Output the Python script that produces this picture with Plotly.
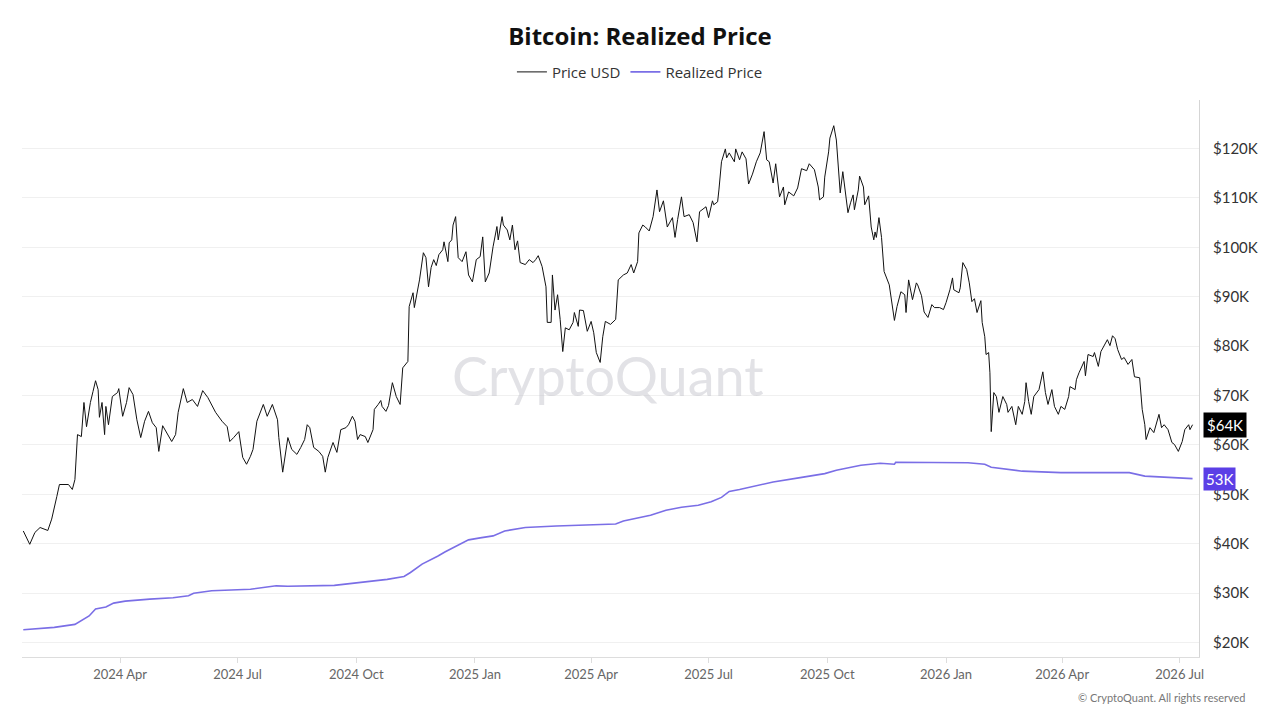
import plotly.graph_objects as go

# ---------------- data ----------------
price_dates = [
    "2024-01-17", "2024-01-22", "2024-01-26", "2024-01-30", "2024-02-05", "2024-02-08", "2024-02-12", "2024-02-14",
    "2024-02-21", "2024-02-24", "2024-02-26", "2024-02-28", "2024-03-02", "2024-03-04", "2024-03-06", "2024-03-09",
    "2024-03-11", "2024-03-13", "2024-03-15", "2024-03-16", "2024-03-18", "2024-03-20", "2024-03-21", "2024-03-23",
    "2024-03-26", "2024-03-30", "2024-03-31", "2024-04-03", "2024-04-06", "2024-04-08", "2024-04-11", "2024-04-14",
    "2024-04-17", "2024-04-20", "2024-04-23", "2024-04-26", "2024-04-29", "2024-05-01", "2024-05-04", "2024-05-08",
    "2024-05-11", "2024-05-14", "2024-05-16", "2024-05-20", "2024-05-23", "2024-05-27", "2024-05-31", "2024-06-04",
    "2024-06-08", "2024-06-14", "2024-06-19", "2024-06-23", "2024-06-25", "2024-06-28", "2024-07-02", "2024-07-05",
    "2024-07-08", "2024-07-11", "2024-07-13", "2024-07-16", "2024-07-21", "2024-07-24", "2024-07-28", "2024-08-01",
    "2024-08-02", "2024-08-05", "2024-08-09", "2024-08-12", "2024-08-16", "2024-08-19", "2024-08-22", "2024-08-24",
    "2024-08-26", "2024-08-29", "2024-09-02", "2024-09-05", "2024-09-07", "2024-09-09", "2024-09-13", "2024-09-16",
    "2024-09-19", "2024-09-23", "2024-09-25", "2024-09-28", "2024-09-30", "2024-10-02", "2024-10-04", "2024-10-08",
    "2024-10-10", "2024-10-14", "2024-10-15", "2024-10-18", "2024-10-20", "2024-10-21", "2024-10-24", "2024-10-26",
    "2024-10-29", "2024-11-01", "2024-11-04", "2024-11-06", "2024-11-08", "2024-11-10", "2024-11-11", "2024-11-14",
    "2024-11-15", "2024-11-17", "2024-11-19", "2024-11-22", "2024-11-24", "2024-11-26", "2024-11-28", "2024-11-30",
    "2024-12-02", "2024-12-04", "2024-12-07", "2024-12-08", "2024-12-11", "2024-12-12", "2024-12-14", "2024-12-15",
    "2024-12-17", "2024-12-19", "2024-12-22", "2024-12-25", "2024-12-27", "2024-12-30", "2025-01-02", "2025-01-05",
    "2025-01-07", "2025-01-09", "2025-01-12", "2025-01-15", "2025-01-18", "2025-01-19", "2025-01-22", "2025-01-23",
    "2025-01-26", "2025-01-28", "2025-01-30", "2025-02-01", "2025-02-03", "2025-02-05", "2025-02-09", "2025-02-12",
    "2025-02-15", "2025-02-17", "2025-02-19", "2025-02-22", "2025-02-25", "2025-02-26", "2025-03-01", "2025-03-02",
    "2025-03-04", "2025-03-06", "2025-03-08", "2025-03-10", "2025-03-12", "2025-03-15", "2025-03-18", "2025-03-19",
    "2025-03-22", "2025-03-23", "2025-03-26", "2025-03-29", "2025-04-01", "2025-04-03", "2025-04-05", "2025-04-08",
    "2025-04-10", "2025-04-12", "2025-04-16", "2025-04-20", "2025-04-22", "2025-04-26", "2025-04-29", "2025-05-02",
    "2025-05-04", "2025-05-07", "2025-05-08", "2025-05-11", "2025-05-13", "2025-05-16", "2025-05-19", "2025-05-22",
    "2025-05-24", "2025-05-27", "2025-05-30", "2025-06-03", "2025-06-05", "2025-06-07", "2025-06-10", "2025-06-12",
    "2025-06-16", "2025-06-19", "2025-06-22", "2025-06-24", "2025-06-29", "2025-07-01", "2025-07-04", "2025-07-05",
    "2025-07-08", "2025-07-09", "2025-07-11", "2025-07-14", "2025-07-15", "2025-07-17", "2025-07-21", "2025-07-22",
    "2025-07-25", "2025-07-27", "2025-07-30", "2025-08-01", "2025-08-04", "2025-08-07", "2025-08-10", "2025-08-13",
    "2025-08-15", "2025-08-17", "2025-08-20", "2025-08-22", "2025-08-25", "2025-08-28", "2025-08-29", "2025-09-01",
    "2025-09-05", "2025-09-08", "2025-09-11", "2025-09-15", "2025-09-17", "2025-09-21", "2025-09-24", "2025-09-25",
    "2025-09-28", "2025-09-29", "2025-10-02", "2025-10-03", "2025-10-06", "2025-10-08", "2025-10-09", "2025-10-11",
    "2025-10-13", "2025-10-15", "2025-10-17", "2025-10-19", "2025-10-21", "2025-10-22", "2025-10-25", "2025-10-26",
    "2025-10-29", "2025-10-30", "2025-11-02", "2025-11-04", "2025-11-06", "2025-11-07", "2025-11-08", "2025-11-10",
    "2025-11-12", "2025-11-14", "2025-11-17", "2025-11-18", "2025-11-22", "2025-11-24", "2025-11-27", "2025-11-30",
    "2025-12-01", "2025-12-03", "2025-12-06", "2025-12-09", "2025-12-10", "2025-12-13", "2025-12-15", "2025-12-18",
    "2025-12-21", "2025-12-23", "2025-12-27", "2025-12-30", "2026-01-01", "2026-01-04", "2026-01-06", "2026-01-07",
    "2026-01-11", "2026-01-12", "2026-01-14", "2026-01-17", "2026-01-19", "2026-01-21", "2026-01-23", "2026-01-25",
    "2026-01-28", "2026-01-29", "2026-01-31", "2026-02-01", "2026-02-03", "2026-02-04", "2026-02-05", "2026-02-07",
    "2026-02-09", "2026-02-11", "2026-02-14", "2026-02-17", "2026-02-18", "2026-02-21", "2026-02-24", "2026-02-26",
    "2026-03-01", "2026-03-03", "2026-03-04", "2026-03-06", "2026-03-08", "2026-03-10", "2026-03-14", "2026-03-17",
    "2026-03-19", "2026-03-21", "2026-03-24", "2026-03-26", "2026-03-29", "2026-03-31", "2026-04-03", "2026-04-06",
    "2026-04-07", "2026-04-11", "2026-04-12", "2026-04-14", "2026-04-18", "2026-04-19", "2026-04-21", "2026-04-25",
    "2026-04-26", "2026-04-29", "2026-05-01", "2026-05-04", "2026-05-06", "2026-05-08", "2026-05-10", "2026-05-12",
    "2026-05-14", "2026-05-17", "2026-05-19", "2026-05-22", "2026-05-25", "2026-05-27", "2026-05-31", "2026-06-02",
    "2026-06-04", "2026-06-05", "2026-06-08", "2026-06-11", "2026-06-15", "2026-06-17", "2026-06-19", "2026-06-22",
    "2026-06-25", "2026-06-27", "2026-06-30", "2026-07-03", "2026-07-05", "2026-07-08", "2026-07-09", "2026-07-11",
]
price_usd = [
    42600, 39900, 42300, 43300, 42700, 45000, 49600, 52000,
    52000, 51000, 53000, 62100, 61700, 68600, 63700, 68600,
    70800, 73000, 71200, 65600, 68600, 62100, 67800, 64100,
    69800, 70600, 71400, 65800, 68600, 71600, 70200, 65100,
    61500, 64800, 66800, 64500, 63500, 58700, 63900, 62100,
    60700, 62100, 66600, 71400, 68600, 69200, 67800, 71000,
    69600, 66600, 64800, 63700, 60700, 61500, 62700, 57500,
    56100, 57700, 59100, 64800, 68200, 65800, 68200, 65100,
    61500, 54500, 61500, 59100, 58100, 59500, 61100, 64100,
    63500, 59500, 58700, 57700, 54500, 57500, 60500, 58500,
    63100, 63500, 64100, 65800, 64800, 61100, 62100, 61700,
    60500, 63100, 67200, 68200, 69000, 67800, 66800, 68000,
    72600, 69800, 68200, 75600, 76300, 76900, 88000, 90800,
    87800, 90800, 93400, 98900, 97900, 92000, 95900, 97500,
    96300, 98500, 99500, 101100, 97100, 100900, 101500, 104500,
    106200, 97900, 97100, 99100, 94400, 93000, 97500, 98100,
    102100, 93000, 94800, 100100, 104200, 101500, 106200, 104500,
    103500, 101500, 104500, 99500, 101300, 96900, 96500, 97500,
    96900, 97500, 98300, 96100, 92000, 84800, 84800, 94400,
    87300, 90400, 85400, 78900, 83700, 83300, 84800, 86800,
    84000, 87300, 87200, 83000, 85000, 82700, 78700, 76700,
    81900, 85000, 84400, 85400, 93400, 94400, 94800, 96500,
    94800, 97100, 102900, 104500, 104100, 103300, 106200, 111600,
    107200, 109400, 104100, 106000, 102000, 105600, 110200, 106200,
    106600, 105000, 101100, 107200, 108200, 106000, 109400, 108600,
    109200, 111600, 117300, 119900, 118100, 119100, 117300, 119900,
    117700, 119300, 117900, 112800, 114800, 117300, 119100, 123400,
    117700, 117300, 113000, 116900, 110200, 112200, 108600, 111200,
    110400, 112000, 115900, 115500, 116900, 115700, 112200, 109600,
    110200, 114200, 119300, 122100, 124600, 121700, 117300, 111000,
    115300, 111600, 107000, 109000, 110600, 107600, 111600, 114400,
    112200, 108600, 110400, 104100, 101500, 103100, 102000, 106000,
    102000, 95100, 93000, 92400, 85200, 88000, 91000, 90400,
    86800, 93400, 89400, 92800, 92400, 90200, 86900, 85800,
    88400, 87800, 87800, 87400, 88800, 91400, 93800, 91400,
    90800, 91800, 96900, 95500, 92800, 89000, 89600, 86800,
    89200, 84800, 81900, 78300, 78700, 74600, 62700, 70600,
    69800, 66600, 69800, 68200, 66600, 67800, 64100, 67800,
    66200, 68800, 72600, 68800, 66200, 69800, 71200, 74800,
    70600, 68200, 71200, 67800, 66200, 67800, 67200, 69800,
    71800, 71200, 73200, 74600, 76900, 74000, 78300, 77900,
    78700, 75900, 78900, 80300, 81300, 80100, 82100, 81500,
    79300, 77300, 77700, 76300, 77300, 73800, 73600, 67200,
    64100, 61100, 63500, 62500, 66200, 63500, 64100, 63100,
    60500, 60100, 58700, 60700, 63100, 64100, 63100, 64100,
]

realized_dates = [
    "2024-01-17", "2024-02-10", "2024-02-26", "2024-03-02", "2024-03-08", "2024-03-13", "2024-03-21", "2024-03-27",
    "2024-04-05", "2024-04-24", "2024-05-12", "2024-05-24", "2024-05-28", "2024-06-11", "2024-07-11", "2024-07-31",
    "2024-08-09", "2024-09-14", "2024-10-07", "2024-10-25", "2024-11-07", "2024-11-12", "2024-11-21", "2024-11-26",
    "2024-12-03", "2024-12-09", "2024-12-21", "2024-12-27", "2025-01-05", "2025-01-15", "2025-01-24", "2025-02-09",
    "2025-03-05", "2025-04-04", "2025-04-20", "2025-04-26", "2025-05-07", "2025-05-17", "2025-05-29", "2025-06-10",
    "2025-06-23", "2025-07-03", "2025-07-11", "2025-07-17", "2025-07-25", "2025-08-05", "2025-08-20", "2025-09-10",
    "2025-09-29", "2025-10-08", "2025-10-27", "2025-11-11", "2025-11-22", "2025-11-23", "2025-12-17", "2026-01-18",
    "2026-01-31", "2026-02-05", "2026-03-01", "2026-03-31", "2026-05-05", "2026-05-23", "2026-06-04", "2026-06-28",
    "2026-07-11",
]
realized_price = [
    22600, 23100, 23700, 24400, 25400, 26800, 27200, 28000,
    28400, 28800, 29100, 29500, 30000, 30500, 30800, 31500,
    31400, 31600, 32200, 32800, 33400, 34200, 35900, 36500,
    37500, 38400, 40100, 40800, 41200, 41600, 42600, 43300,
    43600, 43900, 44000, 44600, 45200, 45800, 46800, 47400,
    47800, 48500, 49400, 50600, 51000, 51700, 52500, 53400,
    54200, 54900, 55900, 56300, 56100, 56500, 56400, 56400,
    56100, 55500, 54700, 54400, 54400, 54400, 53700, 53400,
    53200,
]

y_tick_values = [20000, 30000, 40000, 50000, 60000, 70000, 80000, 90000, 100000, 110000, 120000]
y_tick_labels = ["$20K", "$30K", "$40K", "$50K", "$60K", "$70K", "$80K", "$90K", "$100K", "$110K", "$120K"]
x_tick_values = ["2024-04-01", "2024-07-01", "2024-10-01", "2025-01-01", "2025-04-01",
                 "2025-07-01", "2025-10-01", "2026-01-01", "2026-04-01", "2026-07-01"]
x_tick_labels = ["2024 Apr", "2024 Jul", "2024 Oct", "2025 Jan", "2025 Apr",
                 "2025 Jul", "2025 Oct", "2026 Jan", "2026 Apr", "2026 Jul"]

PRICE_COLOR = "#111111"
REALIZED_COLOR = "#7a6ee6"
REALIZED_LABEL_COLOR = "#5b3fe6"
FONT = "Lato, 'Noto Sans', sans-serif"
TITLE_FONT = "'Open Sans', 'Noto Sans', sans-serif"

fig = go.Figure()
fig.add_trace(go.Scatter(x=price_dates, y=price_usd, mode="lines", name="Price USD",
                         line=dict(color=PRICE_COLOR, width=1)))
fig.add_trace(go.Scatter(x=realized_dates, y=realized_price, mode="lines", name="Realized Price",
                         line=dict(color=REALIZED_COLOR, width=1.6)))

fig.update_layout(
    width=1280, height=720,
    margin=dict(l=22, r=81, t=100, b=63),
    paper_bgcolor="white", plot_bgcolor="white",
    font=dict(family=FONT, color="#333333"),
    title=dict(text="<b>Bitcoin: Realized Price</b>", x=0.5, xref="container", xanchor="center",
               y=1 - 37 / 720, yref="container", yanchor="middle",
               font=dict(family=TITLE_FONT, size=24, color="#111111")),
    showlegend=True,
    legend=dict(orientation="h", x=0.525, xanchor="center", y=1.05, yanchor="middle",
                font=dict(family=TITLE_FONT, size=15, color="#333333"), itemwidth=30,
                bgcolor="rgba(0,0,0,0)"),
    xaxis=dict(range=["2024-01-16", "2026-07-16"], tickvals=x_tick_values, ticktext=x_tick_labels,
               showgrid=False, showline=True, linecolor="#dddddd", linewidth=1,
               ticks="outside", ticklen=5, tickcolor="#dddddd",
               tickfont=dict(size=13, color="#666666"), zeroline=False),
    yaxis=dict(side="right", range=[17100, 129800], tickvals=y_tick_values, ticktext=y_tick_labels,
               showgrid=True, gridcolor="#f0f0f0", gridwidth=1, zeroline=False,
               showline=True, linecolor="#d5d5d5", linewidth=1, ticks="",
               ticklabelstandoff=10, tickfont=dict(size=15, color="#333333")),
    hovermode=False,
)

# watermark
fig.add_annotation(text="CryptoQuant", xref="paper", yref="paper", x=0.498, y=0.506,
                   showarrow=False, font=dict(family=FONT, size=54, color="rgba(190,190,200,0.45)"))

# footer
fig.add_annotation(text="© CryptoQuant. All rights reserved", xref="paper", yref="paper",
                   x=1.0416, y=-0.0736, xanchor="right", yanchor="middle", showarrow=False,
                   font=dict(family=FONT, size=11, color="#777777"))

# last-value labels on the right axis
fig.add_annotation(text="$" + str(round(price_usd[-1] / 1000)) + "K", xref="paper", yref="y",
                   x=1.0034, y=price_usd[-1], xanchor="left", yanchor="middle", showarrow=False,
                   bgcolor="#000000", borderpad=3, font=dict(family=FONT, size=15, color="white"))
fig.add_annotation(text=str(round(realized_price[-1] / 1000)) + "K", xref="paper", yref="y",
                   x=1.0034, y=realized_price[-1], xanchor="left", yanchor="middle", showarrow=False,
                   bgcolor=REALIZED_LABEL_COLOR, borderpad=2, font=dict(family=FONT, size=15, color="white"))

fig.write_html("out.html")
